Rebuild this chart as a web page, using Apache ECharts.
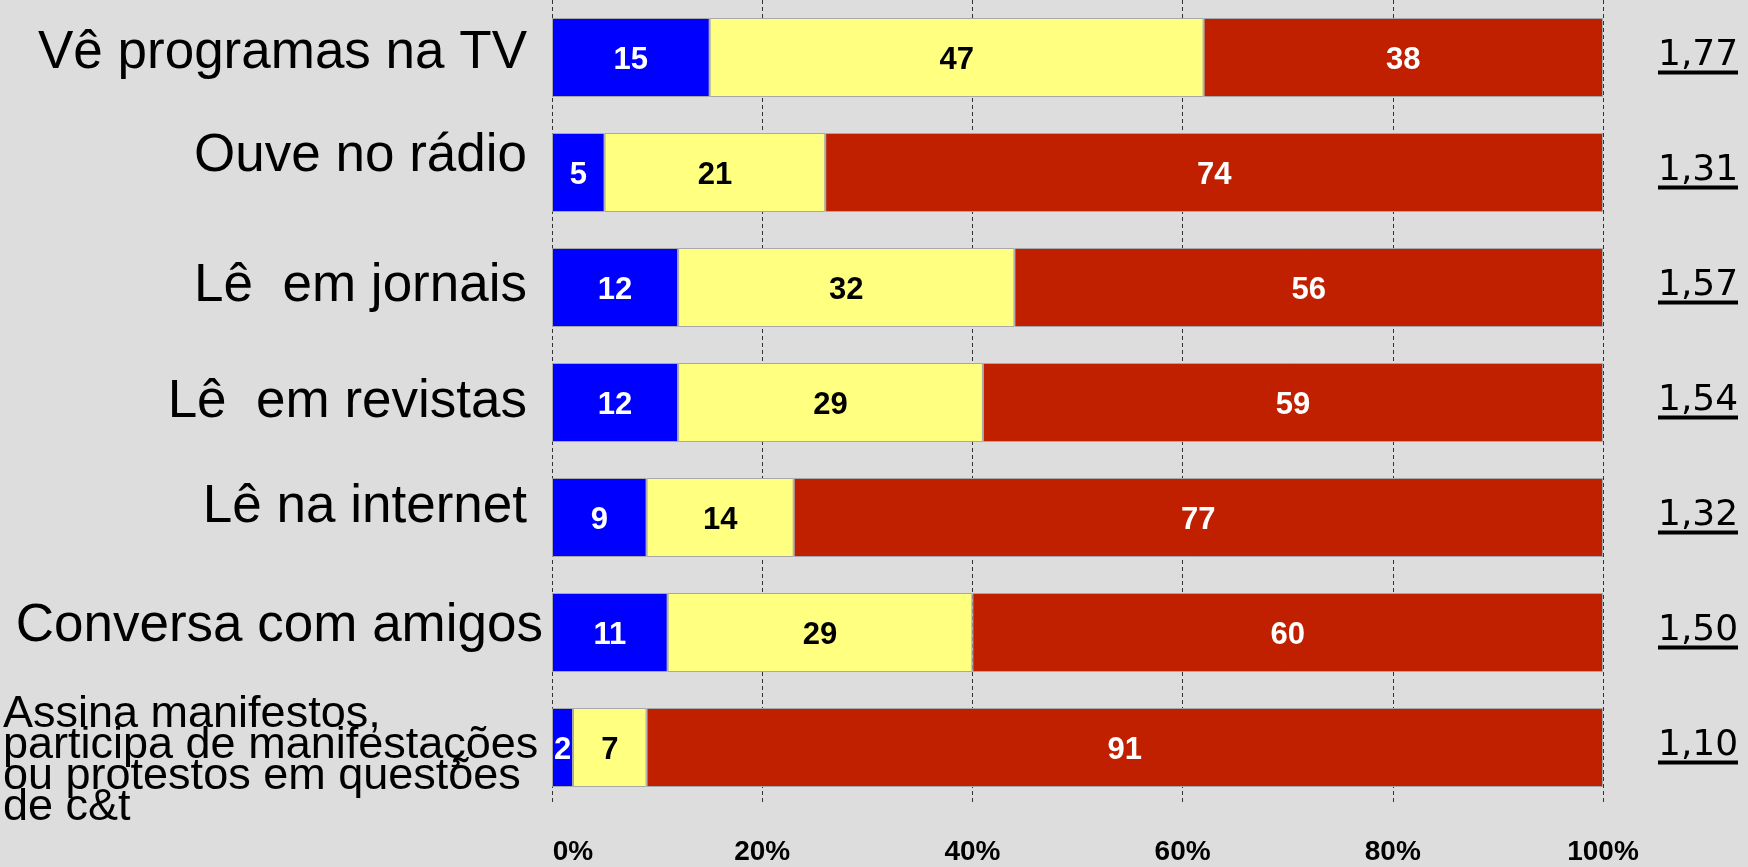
<!DOCTYPE html>
<html>
<head>
<meta charset="utf-8">
<script src="https://cdn.jsdelivr.net/npm/echarts@6/dist/echarts.min.js"></script>
<style>
  html, body { margin: 0; padding: 0; background: #dddddd; }
  #chart { width: 1748px; height: 867px; }
</style>
</head>
<body>
<div id="chart"></div>
<script>
const categories = [
  'Vê programas na TV',
  'Ouve no rádio',
  'Lê  em jornais',
  'Lê  em revistas',
  'Lê na internet',
  'Conversa com amigos',
  'Assina manifestos,\nparticipa de manifestações\nou protestos em questões\nde c&t'
];
const frequentemente = [15, 5, 12, 12, 9, 11, 2];
const asVezes = [47, 21, 32, 29, 14, 29, 7];
const nunca = [38, 74, 56, 59, 77, 60, 91];
const medias = ['1,77', '1,31', '1,57', '1,54', '1,32', '1,50', '1,10'];
const xTicks = [0, 20, 40, 60, 80, 100];

const FONT = '"Liberation Sans", Arial, sans-serif';

// per-label vertical / horizontal fine-tuning
const labelUp = [4, 16, 1, 0, 10, 6];
const labelRightPad = [16, 16, 16, 16, 16, 0];
const rich = {};
labelUp.forEach((d, i) => {
  rich['r' + i] = {
    fontFamily: FONT, fontSize: 53, color: '#000',
    padding: [0, labelRightPad[i], 2 * d, 0]
  };
});
rich.r6 = {
  fontFamily: FONT, fontSize: 45, color: '#000', lineHeight: 31,
  width: 540, align: 'left'
};
rich.sp = { fontSize: 1, lineHeight: 28, height: 28 };

const chart = echarts.init(document.getElementById('chart'));

const barLabel = (color) => ({
  show: true, position: 'inside', color: color,
  fontFamily: FONT, fontWeight: 'bold', fontSize: 31,
  offset: [0, 3],
  formatter: '{c}'
});
const itemBorder = { borderColor: '#a8a8a8', borderWidth: 1 };

chart.setOption({
  backgroundColor: '#dddddd',
  animation: false,
  grid: { left: 552, right: 145, top: 0, bottom: 62, containLabel: false },
  xAxis: {
    type: 'value', min: 0, max: 100, interval: 20,
    axisLine: { show: false }, axisTick: { show: false },
    splitLine: { show: true, lineStyle: { color: '#333', width: 1, type: [4, 3] } },
    axisLabel: {
      formatter: (v) => {
        if (!xTicks.includes(v)) return '';
        return v === 0 ? '{z|' + v + '%}' : '{t|' + v + '%}';
      },
      margin: 33,
      rich: {
        t: { fontFamily: FONT, fontWeight: 'bold', fontSize: 28, color: '#000' },
        z: { fontFamily: FONT, fontWeight: 'bold', fontSize: 28, color: '#000', padding: [0, 0, 0, 42] }
      }
    }
  },
  yAxis: [
    {
      type: 'category', data: categories, inverse: true,
      axisLine: { show: false }, axisTick: { show: false }, splitLine: { show: false },
      axisLabel: {
        margin: 9,
        formatter: (val, idx) => {
          if (idx === 6) {
            return '{sp|}\n' + val.split('\n').map(s => '{r6|' + s + '}').join('\n');
          }
          return '{r' + idx + '|' + val + '}';
        },
        rich: rich
      }
    },
    {
      type: 'category', data: medias, inverse: true, position: 'right',
      axisLine: { show: false }, axisTick: { show: false }, splitLine: { show: false },
      axisLabel: {
        margin: 55,
        formatter: (val) => '{v|' + val + '}\n{u|}',
        rich: {
          v: { fontFamily: '"DejaVu Sans", sans-serif', fontSize: 36, color: '#000', lineHeight: 30, align: 'left' },
          u: { backgroundColor: '#000', height: 4, width: 80, lineHeight: 4, fontSize: 1 }
        }
      }
    }
  ],
  series: [
    {
      name: 'Frequentemente', type: 'bar', stack: 'total', barWidth: 79,
      data: frequentemente, itemStyle: Object.assign({ color: '#0000ff' }, itemBorder),
      label: barLabel('#fff')
    },
    {
      name: 'Às vezes', type: 'bar', stack: 'total', barWidth: 79,
      data: asVezes, itemStyle: Object.assign({ color: '#ffff80' }, itemBorder),
      label: barLabel('#000')
    },
    {
      name: 'Nunca', type: 'bar', stack: 'total', barWidth: 79,
      data: nunca, itemStyle: Object.assign({ color: '#c02000' }, itemBorder),
      label: barLabel('#fff')
    }
  ]
});
</script>
</body>
</html>
